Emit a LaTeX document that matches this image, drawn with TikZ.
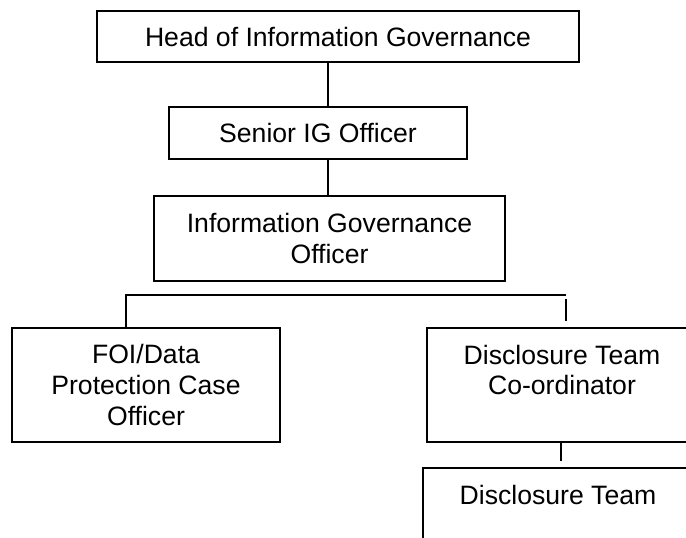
\documentclass[tikz,border=0pt]{standalone}
\usepackage{fontspec}
\setmainfont{Liberation Sans}

\tikzset{
  post/.style={draw,line width=1pt,align=center,inner sep=0pt,
    font=\fontsize{13.3}{15.3}\selectfont},
  link/.style={line width=1pt}
}

\begin{document}
\begin{tikzpicture}[x=0.5pt,y=-0.5pt]
  \path[use as bounding box,clip] (0,0) rectangle (686,537);

  % the posts
  \node[post,minimum width=241pt,minimum height=25.5pt] (head) at (338,36.5) {Head of Information Governance};
  \node[post,minimum width=149pt,minimum height=26pt] (senior) at (318,133) {Senior IG Officer};
  \node[post,minimum width=175.5pt,minimum height=42.5pt] (igo) at (329.5,238.5) {Information Governance\\Officer};
  \node[post,minimum width=134pt,minimum height=57pt] (foi) at (146,385) {FOI/Data\\Protection Case\\Officer};
  \node[post,minimum width=135pt,minimum height=57pt] (coord) at (562,385) {Disclosure Team\\Co-ordinator\\~};
  \node[post,minimum width=135pt,minimum height=57pt] (team) at (558,525) {Disclosure Team\\~\\~};

  % the lines between them
  \coordinate (spine) at (328,0);
  \coordinate (barL) at (126,295);
  \coordinate (barR) at (566,295);
  \coordinate (tickR) at (566,299);
  \coordinate (tickB) at (561,0);
  \draw[link] (head.south -| spine) -- (senior.north -| spine);
  \draw[link] (senior.south -| spine) -- (igo.north -| spine);
  \draw[link] (foi.north -| barL) -- (barL) -- (barR);
  \draw[link,shorten >=3pt] (tickR) -- (tickR |- coord.north);
  \draw[link,shorten >=3pt] (coord.south -| tickB) -- (team.north -| tickB);
\end{tikzpicture}
\end{document}
